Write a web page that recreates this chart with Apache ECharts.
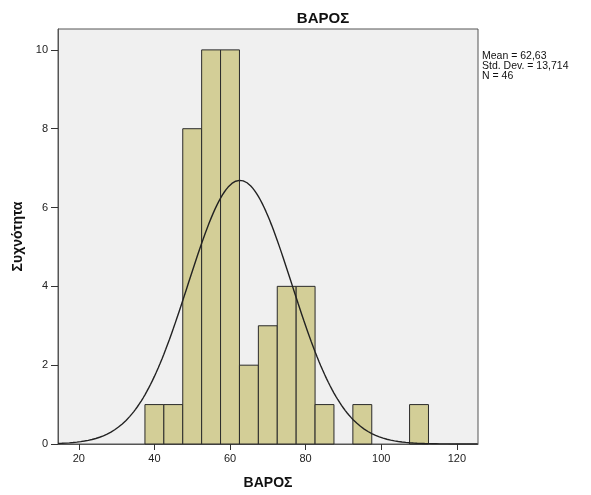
<!DOCTYPE html>
<html>
<head>
<meta charset="utf-8">
<script src="https://cdn.jsdelivr.net/npm/echarts@6/dist/echarts.min.js"></script>
<style>
  html, body { margin: 0; padding: 0; background: #ffffff; }
  #chart { width: 591px; height: 495px; }
</style>
</head>
<body>
<div id="chart"></div>
<script>
// Histogram of body weight (ΒΑΡΟΣ), bins of width 5 centred on multiples of 5
const binCenters = [40, 45, 50, 55, 60, 65, 70, 75, 80, 85, 90, 95, 100, 105, 110];
const binCounts  = [1, 1, 8, 10, 10, 2, 3, 4, 4, 1, 0, 1, 0, 0, 1];
const binWidth = 5;

// Summary statistics shown beside the plot
const statMean = 62.63;
const statSd = 13.714;
const statN = 46;

const xTicks = [20, 40, 60, 80, 100, 120];
const yTicks = [0, 2, 4, 6, 8, 10];

const xMin = 14.5, xMax = 125.6, yMax = 10.53;

// Bars as [start, end, count]
const bars = binCenters
  .map((c, i) => [c - binWidth / 2, c + binWidth / 2, binCounts[i]])
  .filter(d => d[2] > 0);

// Fitted normal curve scaled to the histogram (N * binWidth * pdf)
const curve = [];
for (let x = xMin; x <= xMax + 1e-9; x += 0.5) {
  const z = (x - statMean) / statSd;
  const y = statN * binWidth * Math.exp(-0.5 * z * z) / (statSd * Math.sqrt(2 * Math.PI));
  curve.push([x, y]);
}

const fmt = v => v.toString().replace('.', ',');

const chart = echarts.init(document.getElementById('chart'), null, { renderer: 'canvas' });
chart.setOption({
  animation: false,
  backgroundColor: '#ffffff',
  title: {
    text: 'ΒΑΡΟΣ',
    left: 318, top: 6,
    textAlign: 'center',
    textStyle: { fontFamily: 'Liberation Sans, Arial', fontWeight: 'bold', fontSize: 15, color: '#111' }
  },
  graphic: [{
    type: 'text',
    left: 482, top: 51,
    style: {
      text: 'Mean = ' + fmt(statMean) + '\nStd. Dev. = ' + fmt(statSd) + '\nN = ' + statN,
      font: '10.5px "Liberation Sans", Arial',
      fill: '#111',
      lineHeight: 10
    }
  }],
  grid: {
    left: 58, right: 113, top: 29, bottom: 51,
    show: true,
    backgroundColor: '#f0f0f0',
    borderColor: '#555555',
    borderWidth: 1
  },
  xAxis: {
    type: 'value',
    min: xMin, max: xMax,
    name: 'ΒΑΡΟΣ',
    nameLocation: 'middle',
    nameGap: 32,
    nameTextStyle: { fontFamily: 'Liberation Sans, Arial', fontWeight: 'bold', fontSize: 14, color: '#111' },
    axisLine: { show: true, lineStyle: { color: '#555555', width: 1 } },
    axisTick: { show: true, length: 6, lineStyle: { color: '#333' }, customValues: xTicks },
    axisLabel: { customValues: xTicks, color: '#222', fontFamily: 'Liberation Sans, Arial', fontSize: 11, margin: 9 },
    splitLine: { show: false }
  },
  yAxis: {
    type: 'value',
    min: 0, max: yMax,
    name: 'Συχνότητα',
    nameLocation: 'middle',
    nameGap: 29,
    nameRotate: 90,
    nameTextStyle: { fontFamily: 'Liberation Sans, Arial', fontWeight: 'bold', fontSize: 14, color: '#111' },
    axisLine: { show: true, lineStyle: { color: '#555555', width: 1 } },
    axisTick: { show: true, length: 7, lineStyle: { color: '#333' }, customValues: yTicks },
    axisLabel: { customValues: yTicks, color: '#222', fontFamily: 'Liberation Sans, Arial', fontSize: 11, margin: 10 },
    splitLine: { show: false }
  },
  series: [
    {
      type: 'custom',
      data: bars,
      encode: { x: [0, 1], y: 2 },
      renderItem: function (params, api) {
        const p0 = api.coord([api.value(0), 0]);
        const p1 = api.coord([api.value(1), api.value(2)]);
        return {
          type: 'rect',
          shape: { x: p0[0], y: p1[1], width: p1[0] - p0[0], height: p0[1] - p1[1] },
          style: { fill: '#d3ce97', stroke: '#2a2a2a', lineWidth: 1 }
        };
      },
      z: 2
    },
    {
      type: 'line',
      data: curve,
      showSymbol: false,
      smooth: false,
      lineStyle: { color: '#222222', width: 1.4 },
      z: 3
    }
  ]
});
</script>
</body>
</html>
